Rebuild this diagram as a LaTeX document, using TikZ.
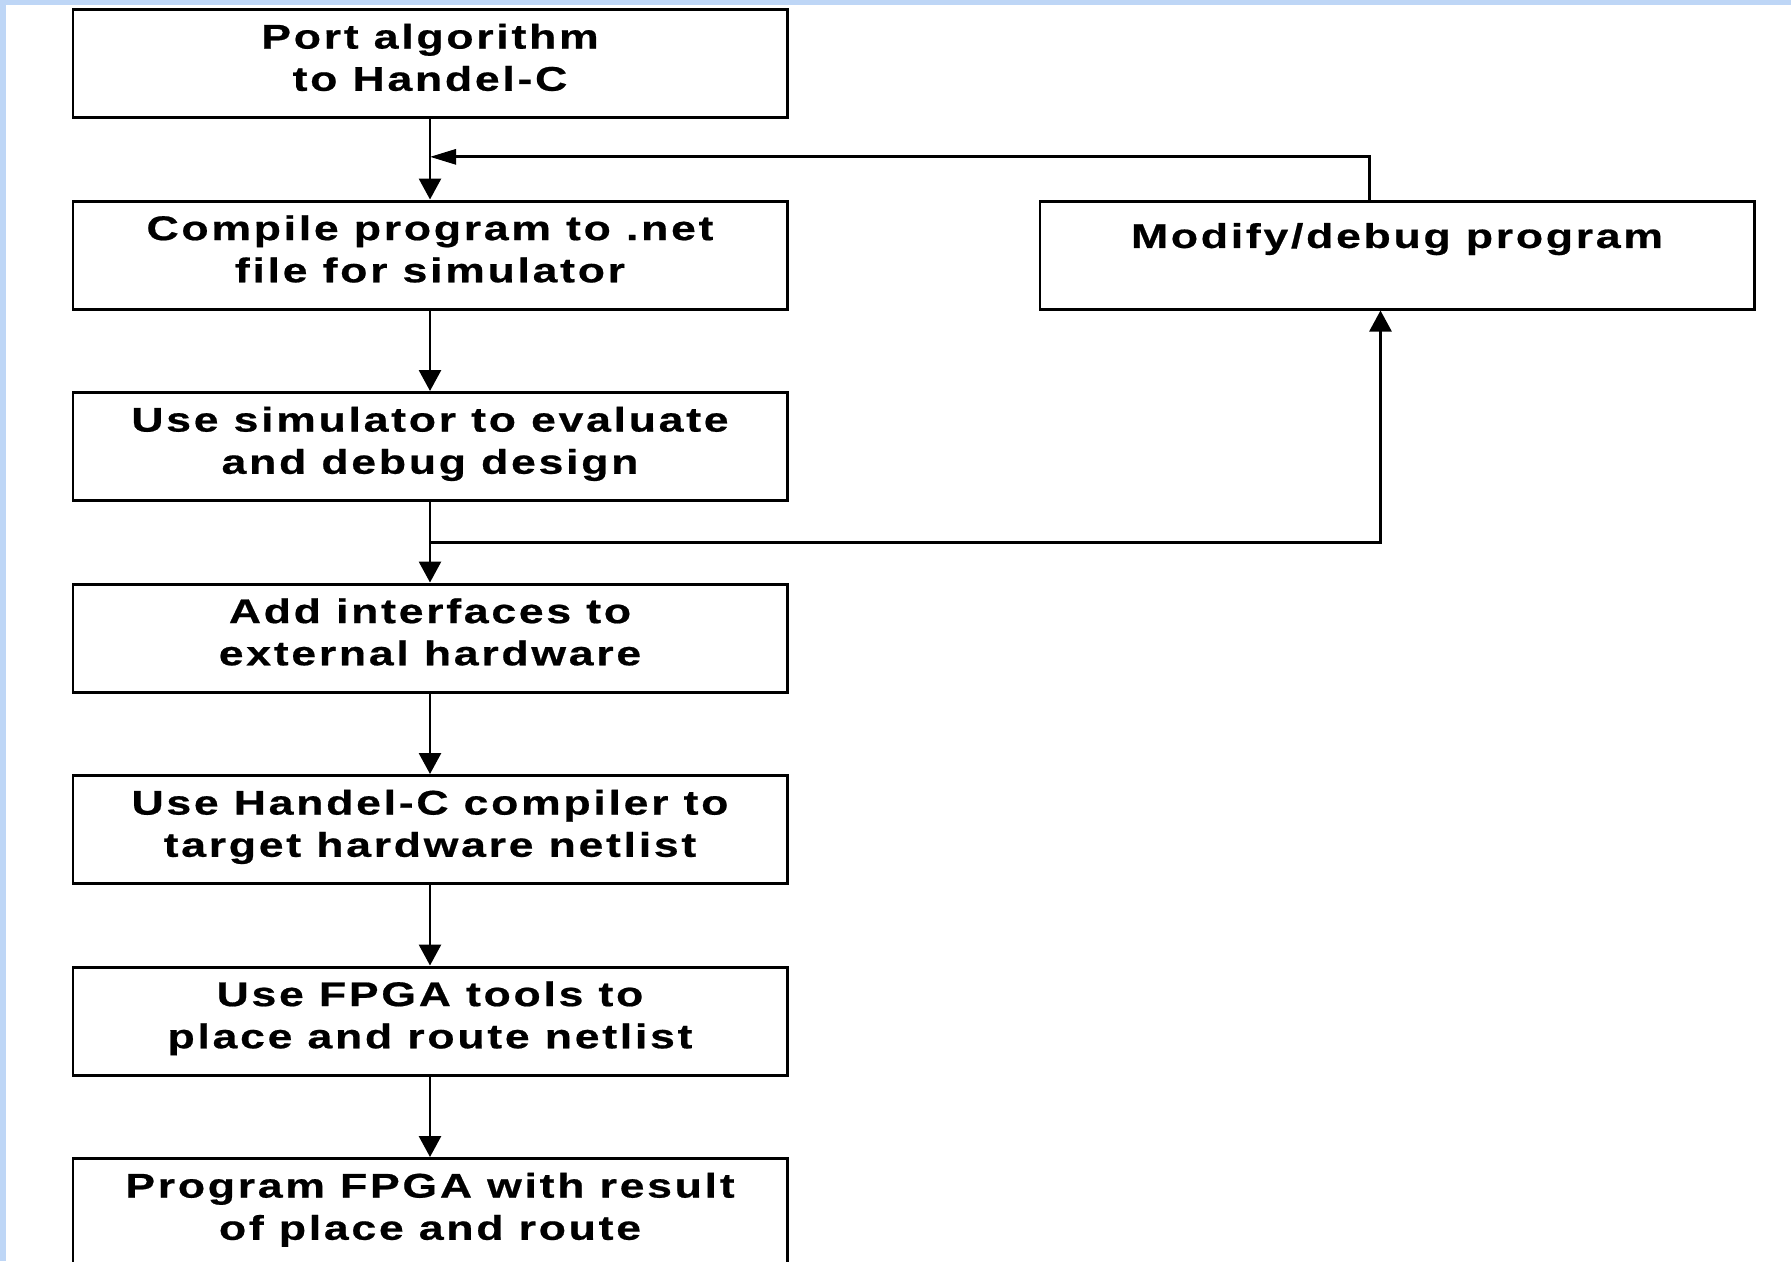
\documentclass[tikz,border=0pt]{standalone}
\usepackage{fontspec}
\usepackage{xcolor}
\usepackage{tikz}
\usetikzlibrary{shapes.geometric, arrows.meta, positioning, calc}
\newfontfamily\boxfont{Liberation Sans}[FakeStretch=1.3, LetterSpace=8, FakeBold=0.6]
\definecolor{framebg}{RGB}{190,214,246}
\tikzstyle{stepbox} = [rectangle, minimum width=14.28cm, minimum height=2.16cm, text centered, align=center, draw=black, line width=1.7pt, fill=white, text depth=0.25cm, font=\boxfont\bfseries\fontsize{19.5}{24}\selectfont]
\tikzstyle{arrow} = [line width=1.6pt,->,>={Triangle[length=0.42cm,width=0.44cm]}]
\tikzstyle{backarrow} = [line width=1.6pt,->,>={Triangle[length=0.52cm,width=0.3cm]}]

\begin{document}
\begin{tikzpicture}[node distance=3.83cm]

% frame
\fill [framebg] (0,0) rectangle (35.82,-25.22);
\fill [white] (0.11,-0.1) rectangle (35.82,-25.22);
\useasboundingbox (0,0) rectangle (35.82,-25.22);

\node (port) [stepbox] at (8.6,-1.27) {Port algorithm\\to Handel-C};
\node (compile) [stepbox, below of=port] {Compile program to .net\\file for simulator};
\node (sim) [stepbox, below of=compile] {Use simulator to evaluate\\and debug design};
\node (iface) [stepbox, below of=sim] {Add interfaces to\\external hardware};
\node (hcc) [stepbox, below of=iface] {Use Handel-C compiler to\\target hardware netlist};
\node (par) [stepbox, below of=hcc] {Use FPGA tools to\\place and route netlist};
\node (fpga) [stepbox, below of=par] {Program FPGA with result\\of place and route};
\node (modify) [stepbox, right=5cm of compile, text depth=0.78cm] {Modify/debug program};

\coordinate (merge) at ($(port.south)!0.47!(compile.north)$);
\coordinate (split) at ($(sim.south)!0.5!(iface.north)$);

\draw [arrow] (port) -- (compile);
\draw [arrow] (compile) -- (sim);
\draw [arrow] (sim) -- (iface);
\draw [arrow] (iface) -- (hcc);
\draw [arrow] (hcc) -- (par);
\draw [arrow] (par) -- (fpga);
\draw [arrow] (split) -| ([xshift=-0.33cm]modify.south);
\draw [backarrow] ([xshift=-0.55cm]modify.north) |- (merge);

\end{tikzpicture}
\end{document}
